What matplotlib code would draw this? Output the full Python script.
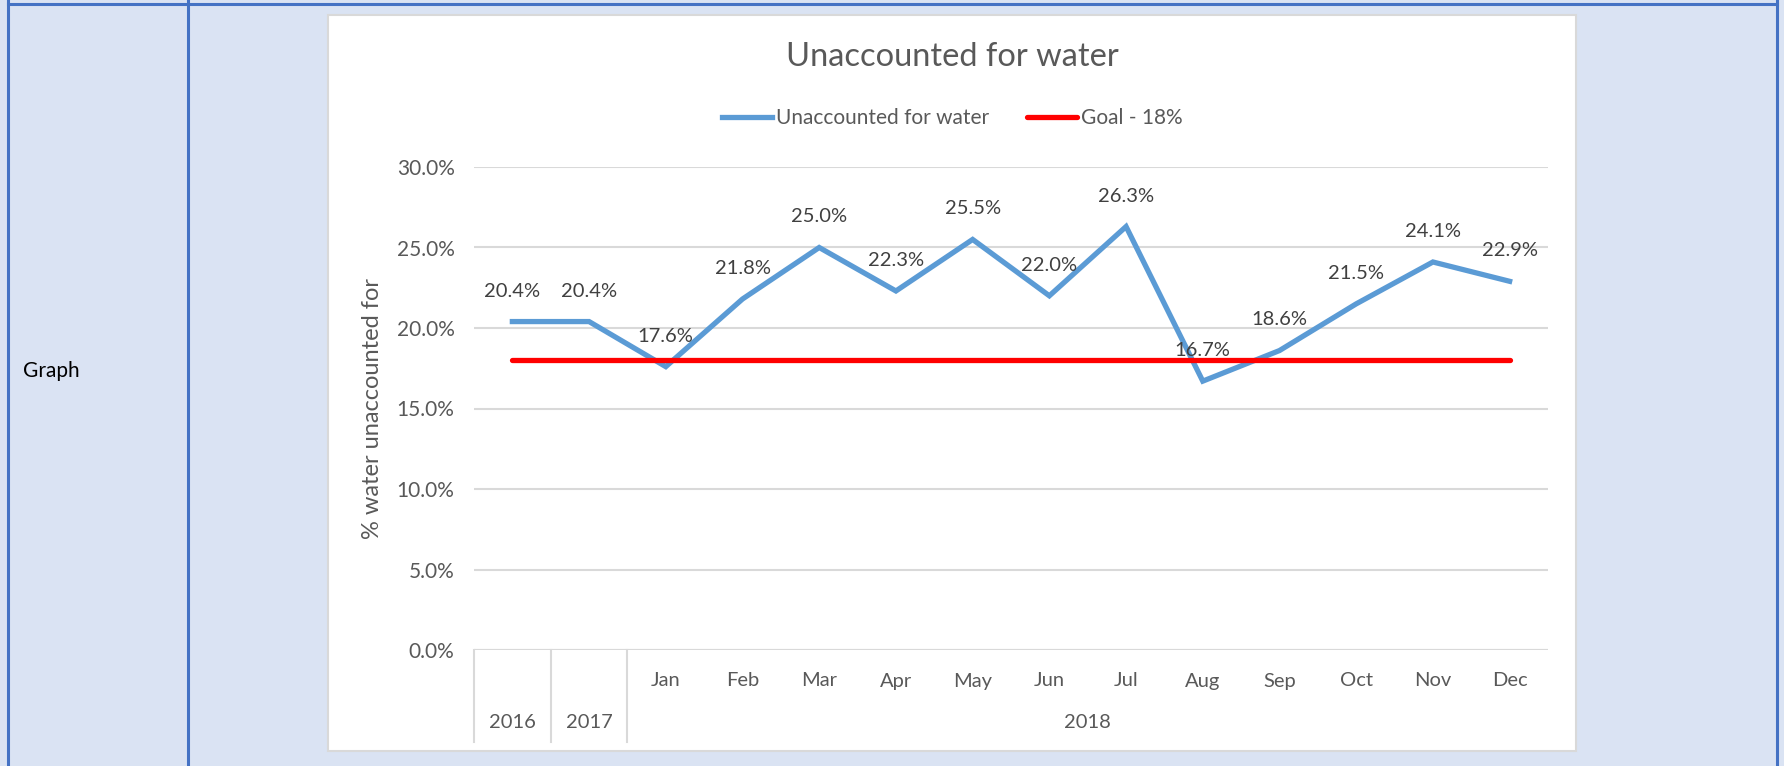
import matplotlib.pyplot as plt
from matplotlib.patches import Rectangle
from matplotlib.lines import Line2D
from matplotlib.transforms import blended_transform_factory

plt.rcParams['font.family'] = ['Lato', 'DejaVu Sans']

# data
months = ["", "", "Jan", "Feb", "Mar", "Apr", "May", "Jun", "Jul", "Aug", "Sep", "Oct", "Nov", "Dec"]
years = ["2016", "2017", "2018"]
water = [20.4, 20.4, 17.6, 21.8, 25.0, 22.3, 25.5, 22.0, 26.3, 16.7, 18.6, 21.5, 24.1, 22.9]
goal = [18.0] * len(water)
yticks = [0, 5, 10, 15, 20, 25, 30]

W, H = 1784, 766
fig = plt.figure(figsize=(W / 100, H / 100), dpi=100)
fig.patch.set_facecolor('#DAE3F3')

def fx(px):
    return px / W

def fy(py):
    return 1 - py / H

# table borders
border = '#4472C4'
for x in [8, 188, 1777]:
    fig.add_artist(Line2D([fx(x), fx(x)], [0, 1], color=border, lw=2.2))
fig.add_artist(Line2D([fx(8), fx(1777)], [fy(4), fy(4)], color=border, lw=2.2))
fig.text(fx(23), fy(371), "Graph", fontsize=15, color='black', va='center', ha='left')

# chart box
fig.add_artist(Rectangle((fx(328), fy(751)), fx(1576) - fx(328), fy(15) - fy(751),
                         facecolor='white', edgecolor='#D9D9D9', lw=1.5, zorder=-1))

ax = fig.add_axes([fx(474), fy(650), fx(1548) - fx(474), fy(167) - fy(650)])
ax.set_facecolor('none')
n = len(water)
x = list(range(n))
ax.set_xlim(-0.5, n - 0.5)
ax.set_ylim(0, 30)
ax.set_yticks(yticks)
ax.set_yticklabels([f"{v:.1f}%" for v in yticks], color='#595959', fontsize=15)
ax.tick_params(axis='y', length=0, pad=14)
ax.tick_params(axis='x', length=0, labelbottom=False)
ax.grid(axis='y', color='#D9D9D9', lw=1.5)
ax.set_axisbelow(True)
for s in ax.spines.values():
    s.set_visible(False)
ax.axhline(0, color='#D9D9D9', lw=1.5, zorder=1)

ax.plot(x, water, color='#5B9BD5', lw=3.8, solid_joinstyle='miter', label='Unaccounted for water', zorder=3)
ax.plot(x, goal, color='#FF0000', lw=3.8, solid_capstyle='round', label='Goal - 18%', zorder=3)

for xi, v in zip(x, water):
    ax.annotate(f"{v:.1f}%", (xi, v), xytext=(0, 22), textcoords='offset points',
                ha='center', va='center', fontsize=14.5, color='#404040', zorder=4)

ax.set_ylabel("% water unaccounted for", color='#595959', fontsize=17, labelpad=10)

# multi-level category axis
tr = blended_transform_factory(ax.transData, ax.transAxes)
axh = 650 - 167
def ay(py):
    return (650 - py) / axh
for xs in [-0.5, 0.5, 1.5]:
    ax.plot([xs, xs], [0, ay(742)], transform=tr, color='#D9D9D9', lw=1.5, clip_on=False)
for xi, m in zip(x, months):
    if m:
        ax.text(xi, ay(681), m, transform=tr, ha='center', va='center', fontsize=14.5, color='#595959')
ax.text(0, ay(723), years[0], transform=tr, ha='center', va='center', fontsize=14.5, color='#595959')
ax.text(1, ay(723), years[1], transform=tr, ha='center', va='center', fontsize=14.5, color='#595959')
ax.text((2 + n - 1) / 2, ay(723), years[2], transform=tr, ha='center', va='center', fontsize=14.5, color='#595959')

fig.text(fx(952), fy(57), "Unaccounted for water", fontsize=23.5, color='#595959', ha='center', va='center')
fig.legend(loc='center', bbox_to_anchor=(fx(952), fy(118)), ncol=2, frameon=False,
           fontsize=15, labelcolor='#595959', handlelength=2.4, handletextpad=0.2, columnspacing=1.8)

fig.savefig('out.png', dpi=100, facecolor=fig.get_facecolor())
